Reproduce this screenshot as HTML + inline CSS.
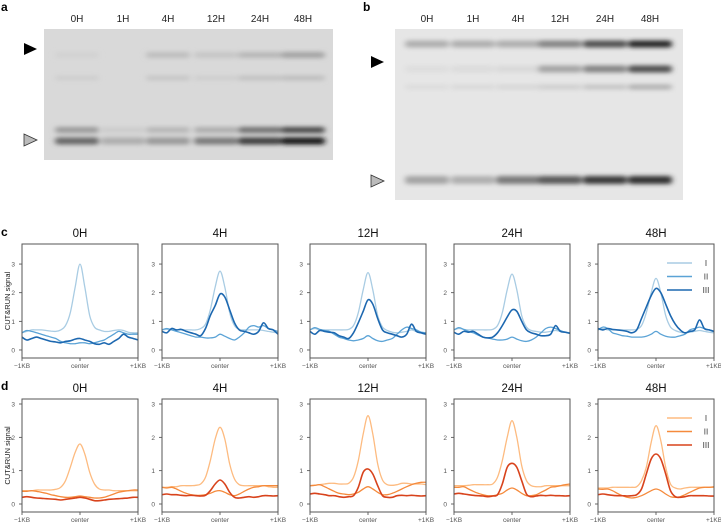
<!DOCTYPE html>
<html><head><meta charset="utf-8"><style>
body{margin:0;background:#fff;width:721px;height:522px;overflow:hidden;font-family:"Liberation Sans",sans-serif}
svg{display:block}
</style></head><body>
<svg id="fig" width="721" height="522" viewBox="0 0 721 522" xmlns="http://www.w3.org/2000/svg">
<defs>
<filter id="bl" x="-30%" y="-150%" width="160%" height="400%"><feGaussianBlur stdDeviation="3 2.2"/></filter>
</defs>
<g id="blots"></g>
<g id="charts"></g>
</svg>
<script>
const NS="http://www.w3.org/2000/svg";
function mk(tag,attrs,parent){const e=document.createElementNS(NS,tag);for(const k in attrs)e.setAttribute(k,attrs[k]);parent.appendChild(e);return e;}
const blots=document.getElementById('blots');
const charts=document.getElementById('charts');

// ---------- blot data ----------
const laneLabels=["0H","1H","4H","12H","24H","48H"];
const blotALanes=[77,123,168,216,260,303];
const blotBLanes=[427,473,518,560,605,650];
const aLowBand=[0.55,0.2,0.3,0.45,0.75,0.95];
const aLowUpper=[0.3,0.05,0.15,0.2,0.5,0.7];
const aHighBand=[0.02,0.0,0.12,0.08,0.15,0.25];
const aMidBand=[0.04,0.0,0.08,0.04,0.1,0.12];
const bTopBand=[0.25,0.25,0.25,0.45,0.7,0.9];
const bSecBand=[0.03,0.04,0.05,0.3,0.45,0.7];
const bThirdBand=[0.04,0.05,0.06,0.1,0.15,0.25];
const bLowBand=[0.3,0.25,0.5,0.65,0.8,0.85];

function gray(v){const g=Math.round(214-v*204);return `rgb(${g},${g},${g})`;}
function grayB(v){const g=Math.round(228-v*212);return `rgb(${g},${g},${g})`;}

function blot(name,x,y,w,h,bg,lanes,bands,fn){
  const g=mk('g',{},blots);
  
  
  mk('rect',{x:x,y:y,width:w,height:h,fill:bg},g);
  const bg2=mk('g',{filter:'url(#bl)'},g);
  bands.forEach(b=>{
    lanes.forEach((cx,i)=>{
      const v=b.vals[i]; if(v<=0.005)return;
      const r=mk('rect',{x:cx-22,y:b.y-b.h/2,width:44,height:b.h,rx:3,fill:fn(v)},bg2);
      
      
    });
  });
  lanes.forEach((cx,i)=>{
    const t=mk('text',{x:cx,y:22,'font-size':10,'text-anchor':'middle',fill:'#222'},blots);
    t.textContent=laneLabels[i];
    
    
  });
}
blot('blot-a',44,29,289,131,'#d9d9d9',blotALanes,[
  {y:141,h:7,vals:aLowBand},{y:130,h:6,vals:aLowUpper},{y:55,h:6,vals:aHighBand},{y:78,h:5,vals:aMidBand}],gray);
blot('blot-b',395,29,288,171,'#e6e6e6',blotBLanes,[
  {y:44,h:7,vals:bTopBand},{y:69,h:7,vals:bSecBand},{y:87,h:5,vals:bThirdBand},{y:180,h:8,vals:bLowBand}],grayB);

function tri(x,y,fill,name){
  const p=mk('polygon',{points:`${x-6},${y-6} ${x+7},${y} ${x-6},${y+6}`,fill:fill,stroke:'#333','stroke-width':fill=='#000'?0:0.8},blots);
  
  
}
tri(30,49,'#000','arrow-high-a');tri(30,140,'#bbb','arrow-low-a');
tri(377,62,'#000','arrow-high-b');tri(377,181,'#bbb','arrow-low-b');
[['a',1,11],['b',363,11],['c',1,236],['d',1,390]].forEach(([l,x,y])=>{
  const t=mk('text',{x:x,y:y,'font-size':12,'font-weight':'bold',fill:'#000'},blots);
  t.textContent=l;
  
  
});

// ---------- chart data ----------
const panelTitles=["0H","4H","12H","24H","48H"];
const yTicks=[0,1,2,3];
const xTickLabels=["\u22121KB","center","+1KB"];
const seriesNames=["I","II","III"];
const c0_I=[0.6,0.65,0.7,0.7,0.7,0.68,0.66,0.65,0.7,0.85,1.3,2.2,3.0,2.2,1.2,0.8,0.7,0.65,0.65,0.68,0.7,0.68,0.62,0.6,0.6];
const c0_II=[0.6,0.68,0.65,0.6,0.55,0.5,0.45,0.4,0.3,0.25,0.22,0.22,0.25,0.25,0.22,0.25,0.3,0.35,0.45,0.55,0.65,0.6,0.55,0.55,0.55];
const c0_III=[0.45,0.35,0.4,0.45,0.4,0.35,0.3,0.28,0.25,0.3,0.32,0.38,0.4,0.35,0.3,0.22,0.2,0.25,0.2,0.3,0.4,0.55,0.45,0.4,0.35];
const c4_I=[0.7,0.72,0.7,0.7,0.7,0.7,0.7,0.7,0.75,0.9,1.4,2.2,2.75,2.2,1.3,0.85,0.72,0.7,0.7,0.7,0.7,0.68,0.65,0.62,0.6];
const c4_II=[0.7,0.75,0.7,0.65,0.6,0.55,0.5,0.45,0.45,0.42,0.42,0.45,0.55,0.48,0.4,0.35,0.45,0.6,0.8,0.85,0.8,0.85,0.75,0.7,0.65];
const c4_III=[0.65,0.6,0.75,0.7,0.72,0.65,0.6,0.55,0.5,0.75,1.2,1.55,1.95,1.85,1.4,0.95,0.7,0.65,0.6,0.55,0.65,0.95,0.75,0.7,0.55];
const c12_I=[0.7,0.75,0.7,0.7,0.7,0.7,0.7,0.7,0.72,0.85,1.3,2.1,2.7,2.1,1.2,0.8,0.68,0.62,0.6,0.62,0.65,0.7,0.65,0.62,0.6];
const c12_II=[0.7,0.78,0.72,0.68,0.65,0.55,0.45,0.4,0.35,0.32,0.35,0.4,0.5,0.4,0.32,0.3,0.35,0.4,0.55,0.7,0.8,0.75,0.7,0.62,0.6];
const c12_III=[0.65,0.55,0.68,0.65,0.62,0.6,0.5,0.45,0.4,0.6,0.95,1.35,1.75,1.6,1.1,0.7,0.6,0.55,0.5,0.45,0.55,0.9,0.65,0.6,0.55];
const c24_I=[0.7,0.75,0.72,0.7,0.7,0.7,0.7,0.7,0.72,0.85,1.3,2.1,2.65,2.1,1.2,0.8,0.68,0.65,0.62,0.62,0.65,0.68,0.65,0.62,0.6];
const c24_II=[0.7,0.78,0.72,0.65,0.6,0.52,0.45,0.42,0.38,0.35,0.35,0.38,0.45,0.38,0.32,0.3,0.35,0.45,0.6,0.75,0.8,0.75,0.68,0.62,0.6];
const c24_III=[0.62,0.55,0.65,0.62,0.65,0.55,0.45,0.42,0.45,0.6,0.85,1.15,1.4,1.35,1.0,0.7,0.6,0.55,0.5,0.5,0.55,0.85,0.65,0.62,0.58];
const c48_I=[0.7,0.75,0.7,0.7,0.7,0.7,0.7,0.7,0.72,0.85,1.3,2.0,2.5,2.0,1.2,0.8,0.68,0.62,0.6,0.62,0.65,0.68,0.65,0.62,0.6];
const c48_II=[0.7,0.8,0.75,0.6,0.55,0.5,0.48,0.45,0.45,0.45,0.48,0.55,0.65,0.55,0.48,0.45,0.45,0.5,0.55,0.7,0.75,0.8,0.75,0.7,0.65];
const c48_III=[0.75,0.7,0.75,0.72,0.7,0.68,0.65,0.6,0.7,1.1,1.5,1.9,2.15,2.0,1.6,1.2,0.9,0.7,0.6,0.65,0.7,1.05,0.75,0.7,0.65];
const d0_I=[0.4,0.4,0.4,0.42,0.42,0.42,0.42,0.44,0.5,0.7,1.1,1.55,1.8,1.5,0.95,0.6,0.45,0.42,0.42,0.4,0.4,0.4,0.4,0.4,0.4];
const d0_II=[0.38,0.38,0.4,0.38,0.35,0.32,0.28,0.25,0.22,0.2,0.2,0.22,0.24,0.22,0.2,0.18,0.18,0.2,0.25,0.3,0.35,0.38,0.4,0.42,0.42];
const d0_III=[0.2,0.22,0.2,0.18,0.17,0.16,0.15,0.14,0.12,0.14,0.16,0.18,0.2,0.18,0.14,0.1,0.1,0.12,0.14,0.15,0.16,0.17,0.18,0.2,0.2];
const d4_I=[0.5,0.5,0.52,0.52,0.55,0.55,0.55,0.56,0.6,0.8,1.3,1.95,2.3,1.95,1.2,0.75,0.58,0.55,0.55,0.55,0.55,0.55,0.52,0.5,0.5];
const d4_II=[0.5,0.48,0.5,0.45,0.38,0.32,0.28,0.26,0.26,0.28,0.32,0.38,0.4,0.35,0.28,0.25,0.3,0.38,0.45,0.5,0.52,0.55,0.55,0.55,0.55];
const d4_III=[0.28,0.3,0.28,0.28,0.26,0.25,0.26,0.25,0.24,0.26,0.4,0.6,0.72,0.6,0.35,0.2,0.18,0.2,0.22,0.2,0.22,0.25,0.25,0.24,0.25];
const d12_I=[0.55,0.56,0.58,0.6,0.62,0.62,0.6,0.6,0.62,0.8,1.3,2.1,2.65,2.1,1.2,0.72,0.58,0.56,0.58,0.62,0.62,0.6,0.6,0.6,0.58];
const d12_II=[0.55,0.56,0.58,0.52,0.45,0.38,0.32,0.3,0.28,0.3,0.35,0.45,0.52,0.45,0.35,0.28,0.28,0.32,0.38,0.45,0.52,0.58,0.62,0.65,0.65];
const d12_III=[0.3,0.32,0.3,0.28,0.25,0.25,0.22,0.2,0.22,0.25,0.5,0.95,1.05,0.9,0.55,0.25,0.2,0.2,0.25,0.26,0.25,0.26,0.25,0.24,0.25];
const d24_I=[0.55,0.55,0.55,0.56,0.58,0.58,0.58,0.58,0.6,0.8,1.3,2.0,2.5,2.0,1.15,0.7,0.55,0.52,0.52,0.55,0.55,0.55,0.55,0.55,0.55];
const d24_II=[0.5,0.5,0.52,0.45,0.38,0.32,0.28,0.25,0.25,0.28,0.32,0.42,0.48,0.42,0.32,0.25,0.25,0.28,0.35,0.42,0.5,0.52,0.55,0.58,0.6];
const d24_III=[0.3,0.32,0.3,0.28,0.26,0.25,0.24,0.22,0.24,0.28,0.6,1.1,1.22,1.1,0.7,0.3,0.22,0.24,0.26,0.25,0.26,0.25,0.25,0.24,0.25];
const d48_I=[0.48,0.48,0.48,0.5,0.5,0.5,0.5,0.5,0.52,0.7,1.1,1.85,2.35,1.9,1.1,0.6,0.48,0.45,0.48,0.5,0.5,0.5,0.5,0.5,0.5];
const d48_II=[0.45,0.44,0.45,0.4,0.32,0.25,0.2,0.18,0.2,0.25,0.32,0.4,0.45,0.4,0.3,0.22,0.2,0.22,0.28,0.35,0.42,0.48,0.5,0.5,0.52];
const d48_III=[0.28,0.3,0.28,0.26,0.25,0.25,0.24,0.25,0.28,0.45,0.9,1.35,1.5,1.35,0.9,0.4,0.22,0.2,0.22,0.25,0.25,0.25,0.25,0.24,0.24];

const rowC=[[c0_I,c0_II,c0_III],[c4_I,c4_II,c4_III],[c12_I,c12_II,c12_III],[c24_I,c24_II,c24_III],[c48_I,c48_II,c48_III]];
const rowD=[[d0_I,d0_II,d0_III],[d4_I,d4_II,d4_III],[d12_I,d12_II,d12_III],[d24_I,d24_II,d24_III],[d48_I,d48_II,d48_III]];
const blueColors=["#a9cce3","#5ba3d6","#1d68b0"];
const orangeColors=["#fdbb80","#f58a3c","#d8431c"];

const plotLefts=[22,162,310,454,598];
const plotW=116;

function smoothPath(pts){
  // Catmull-Rom to cubic bezier
  let d='M'+pts[0][0].toFixed(1)+','+pts[0][1].toFixed(1);
  for(let i=0;i<pts.length-1;i++){
    const p0=pts[Math.max(0,i-1)],p1=pts[i],p2=pts[i+1],p3=pts[Math.min(pts.length-1,i+2)];
    const c1x=p1[0]+(p2[0]-p0[0])/6,c1y=p1[1]+(p2[1]-p0[1])/6;
    const c2x=p2[0]-(p3[0]-p1[0])/6,c2y=p2[1]-(p3[1]-p1[1])/6;
    d+=` C${c1x.toFixed(1)},${c1y.toFixed(1)} ${c2x.toFixed(1)},${c2y.toFixed(1)} ${p2[0].toFixed(1)},${p2[1].toFixed(1)}`;
  }
  return d;
}

function drawRow(rowName,data,colors,top,bottom,ymin,ymax){
  data.forEach((series,p)=>{
    const L=plotLefts[p];
    const X=t=>L+t*plotW;
    const Y=v=>bottom-(v-ymin)/(ymax-ymin)*(bottom-top);
    const g=mk('g',{},charts);
    
    
    const t=mk('text',{x:L+plotW/2,y:top-7,'font-size':11.5,'text-anchor':'middle',fill:'#111'},g);
    t.textContent=panelTitles[p];
    
    
    yTicks.forEach(v=>{
      mk('line',{x1:L-3,x2:L,y1:Y(v),y2:Y(v),stroke:'#444','stroke-width':0.8},g);
      const tt=mk('text',{x:L-7,y:Y(v)+2.5,'font-size':6.5,'text-anchor':'end',fill:'#555'},g);
      tt.textContent=v;
      
      
    });
    xTickLabels.forEach((lab,i)=>{
      const xx=X(i/2);
      mk('line',{x1:xx,x2:xx,y1:bottom,y2:bottom+3,stroke:'#444','stroke-width':0.8},g);
      const tt=mk('text',{x:xx,y:bottom+10,'font-size':6.5,'text-anchor':'middle',fill:'#555'},g);
      tt.textContent=lab;
      
      
    });
    series.forEach((vals,s)=>{
      const pts=vals.map((v,i)=>[X(i/(vals.length-1)),Y(v)]);
      const path=mk('path',{d:smoothPath(pts),fill:'none',stroke:colors[s],'stroke-width':s==2?1.6:1.3,'stroke-linejoin':'round'},g);
      
      
    });
    mk('rect',{x:L,y:top,width:plotW,height:bottom-top,fill:'none',stroke:'#555','stroke-width':1},g);
    if(p===4){
      const lg=mk('g',{},g);
      
      
      seriesNames.forEach((n,s)=>{
        const ly=top+19+s*13.5;
        mk('line',{x1:667,x2:692,y1:ly,y2:ly,stroke:colors[s],'stroke-width':1.6},lg);
        const lt=mk('text',{x:706,y:ly+3,'font-size':8,fill:'#333','text-anchor':'middle'},lg);
        lt.textContent=n;
        
        
      });
    }
  });
  const yl=mk('text',{x:0,y:0,'font-size':7.5,'text-anchor':'middle',fill:'#222',transform:`translate(10,${(top+bottom)/2}) rotate(-90)`},charts);
  yl.textContent='CUT&RUN signal';
  
  
}
drawRow('c',rowC,blueColors,244,358,-0.28,3.7);
drawRow('d',rowD,orangeColors,399,512,-0.24,3.15);
</script>
</body></html>
